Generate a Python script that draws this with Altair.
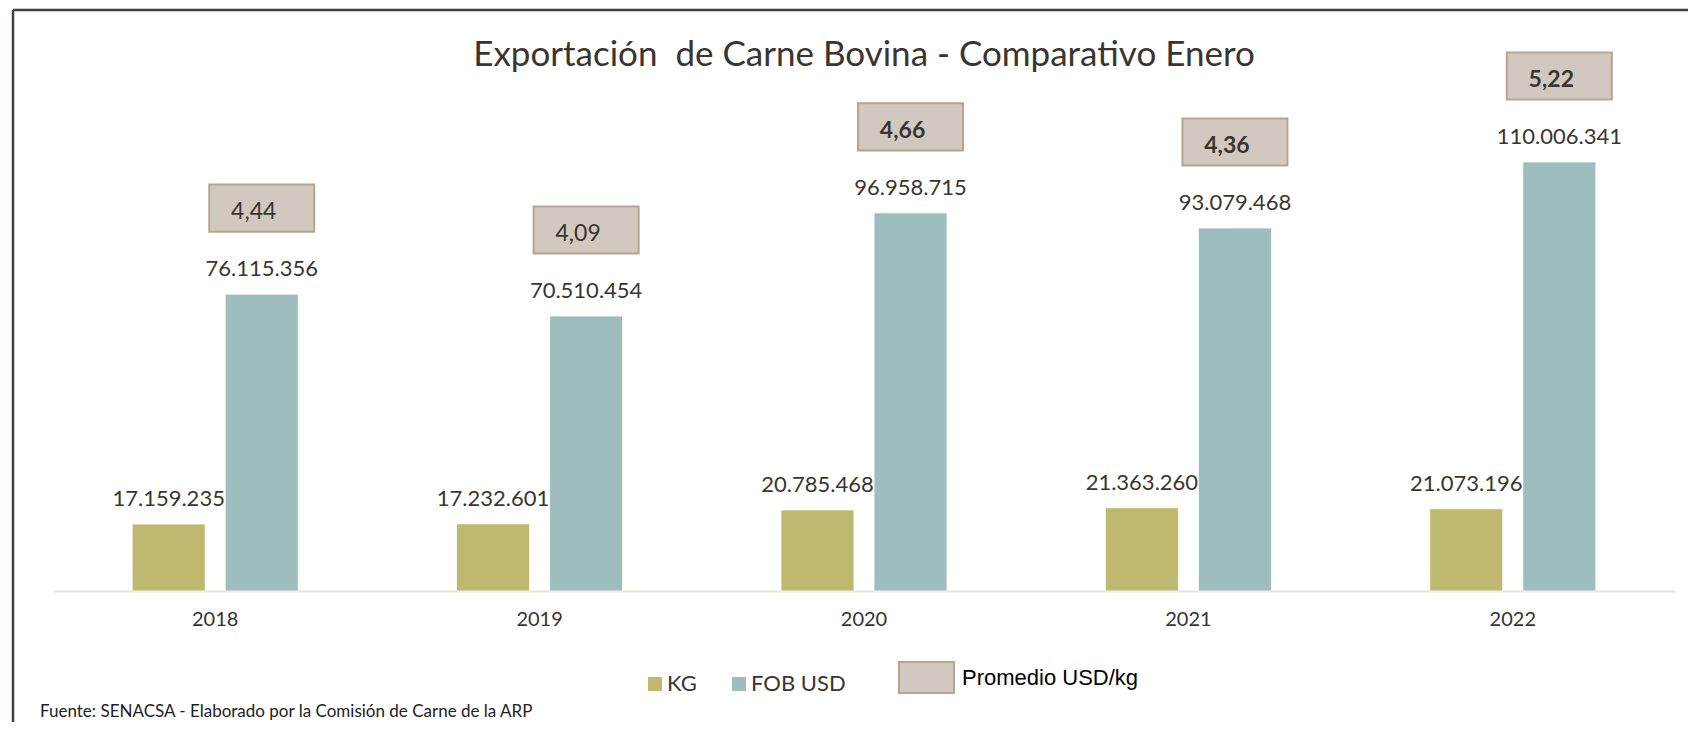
import altair as alt
import pandas as pd

anios = ["2018", "2019", "2020", "2021", "2022"]
kg = [17159235, 17232601, 20785468, 21363260, 21073196]
fob = [76115356, 70510454, 96958715, 93079468, 110006341]
promedio = [4.44, 4.09, 4.66, 4.36, 5.22]
series = ["KG", "FOB USD"]
colores = ["#bfb86f", "#9dbebd"]
titulo = "Exportación\u00a0 de Carne Bovina - Comparativo Enero"
fuente = "Fuente: SENACSA - Elaborado por la Comisión de Carne de la ARP"
etiqueta_promedio = "Promedio USD/kg"

long_df = pd.DataFrame({
    "anio": anios * 2,
    "serie": ["KG"] * len(anios) + ["FOB USD"] * len(anios),
    "valor": kg + fob,
})
prom_df = pd.DataFrame({
    "anio": anios,
    "serie": ["FOB USD"] * len(anios),
    "fob": fob,
    "promedio": promedio,
    "leyenda": [etiqueta_promedio] * len(anios),
})

X = alt.X("anio:N", sort=anios,
          scale=alt.Scale(paddingInner=0.488, paddingOuter=0.244),
          axis=alt.Axis(title=None, labelAngle=0, labelFont="Lato", labelFontSize=20,
                        labelColor="#333333", labelPadding=18, ticks=False,
                        domainColor="#e6e3da", domainWidth=2, grid=False))
XO = alt.XOffset("serie:N", sort=series,
                 scale=alt.Scale(domain=series, paddingInner=0.215))
yscale = alt.Scale(domain=[0, 130e6])

bars = alt.Chart(long_df).mark_bar(stroke="white", strokeWidth=0.8).encode(
    x=X, xOffset=XO,
    y=alt.Y("valor:Q", scale=yscale, axis=None),
    color=alt.Color("serie:N", sort=series,
                    scale=alt.Scale(domain=series, range=colores),
                    legend=alt.Legend(title=None, orient="none", legendX=591, legendY=589,
                                      direction="horizontal", symbolType="square",
                                      symbolSize=196, symbolStrokeWidth=0,
                                      labelFont="Lato", labelFontSize=22,
                                      labelColor="#3a3530", columnPadding=31,
                                      labelOffset=1)),
)

labels = alt.Chart(long_df).mark_text(
    font="Lato", fontSize=22, color="#3a3530", baseline="middle", dy=-25
).encode(
    x=X, xOffset=XO,
    y=alt.Y("valor:Q", scale=yscale, axis=None),
    text=alt.Text("valor:Q", format=",.0f"),
)

boxes = alt.Chart(prom_df).transform_calculate(
    top="datum.fob + 28.1e6", bot="datum.fob + 16.0e6"
).mark_bar(width=105, stroke="#b5a58f", strokeWidth=2).encode(
    x=X, xOffset=XO,
    y=alt.Y("top:Q", scale=yscale, axis=None),
    y2="bot:Q",
    fill=alt.Fill("leyenda:N", scale=alt.Scale(range=["#d1c9bf"]),
                  legend=alt.Legend(title=None, orient="none", legendX=845, legendY=565,
                                    symbolType="M-1,-0.5636H1V0.5636H-1Z", symbolSize=3025,
                                    symbolStrokeColor="#b5a58f", symbolStrokeWidth=2,
                                    labelFont="Liberation Sans", labelFontSize=22,
                                    labelColor="#000000", labelOffset=7, labelLimit=400)),
)


def box_text(test, weight):
    return alt.Chart(prom_df).transform_filter(test).transform_calculate(
        centro="datum.fob + 22.05e6"
    ).mark_text(font="Lato", fontSize=23, fontWeight=weight, color="#3a3530",
                baseline="middle", dx=-8, dy=4).encode(
        x=X, xOffset=XO,
        y=alt.Y("centro:Q", scale=yscale, axis=None),
        text=alt.Text("promedio:Q", format=".2f"),
    )


box_text_normal = box_text("toNumber(datum.anio) < 2020", "normal")
box_text_bold = box_text("toNumber(datum.anio) >= 2020", "bold")

one = pd.DataFrame({"t": [fuente]})
source = alt.Chart(one).mark_text(
    font="Lato", fontSize=17, color="#222222", align="left", baseline="alphabetic"
).encode(x=alt.value(-13), y=alt.value(633), text="t:N")

frame_top = alt.Chart(one).mark_rule(color="#45413c", strokeWidth=2.5).encode(
    x=alt.value(-40), x2=alt.value(1650), y=alt.value(-74))
frame_left = alt.Chart(one).mark_rule(color="#45413c", strokeWidth=2.5).encode(
    x=alt.value(-40), y=alt.value(-74), y2=alt.value(660))

chart = alt.layer(bars, labels, boxes, box_text_normal, box_text_bold, source,
                  frame_top, frame_left).resolve_scale(
    color="independent", fill="independent"
).properties(
    width=1622, height=507,
    autosize=alt.AutoSizeParams(type="none"),
    padding={"left": 45, "top": 76, "right": 13, "bottom": 131},
    title=alt.TitleParams(text=titulo, font="Lato", fontSize=35, fontWeight="normal",
                          color="#3a3530", anchor="middle", offset=-64),
    background="white",
).configure(
    locale={"number": {"decimal": ",", "thousands": ".", "grouping": [3], "currency": ["", ""]}}
).configure_view(stroke=None, strokeWidth=0)

chart.save("out.html", embed_options={"renderer": "svg", "actions": False})
